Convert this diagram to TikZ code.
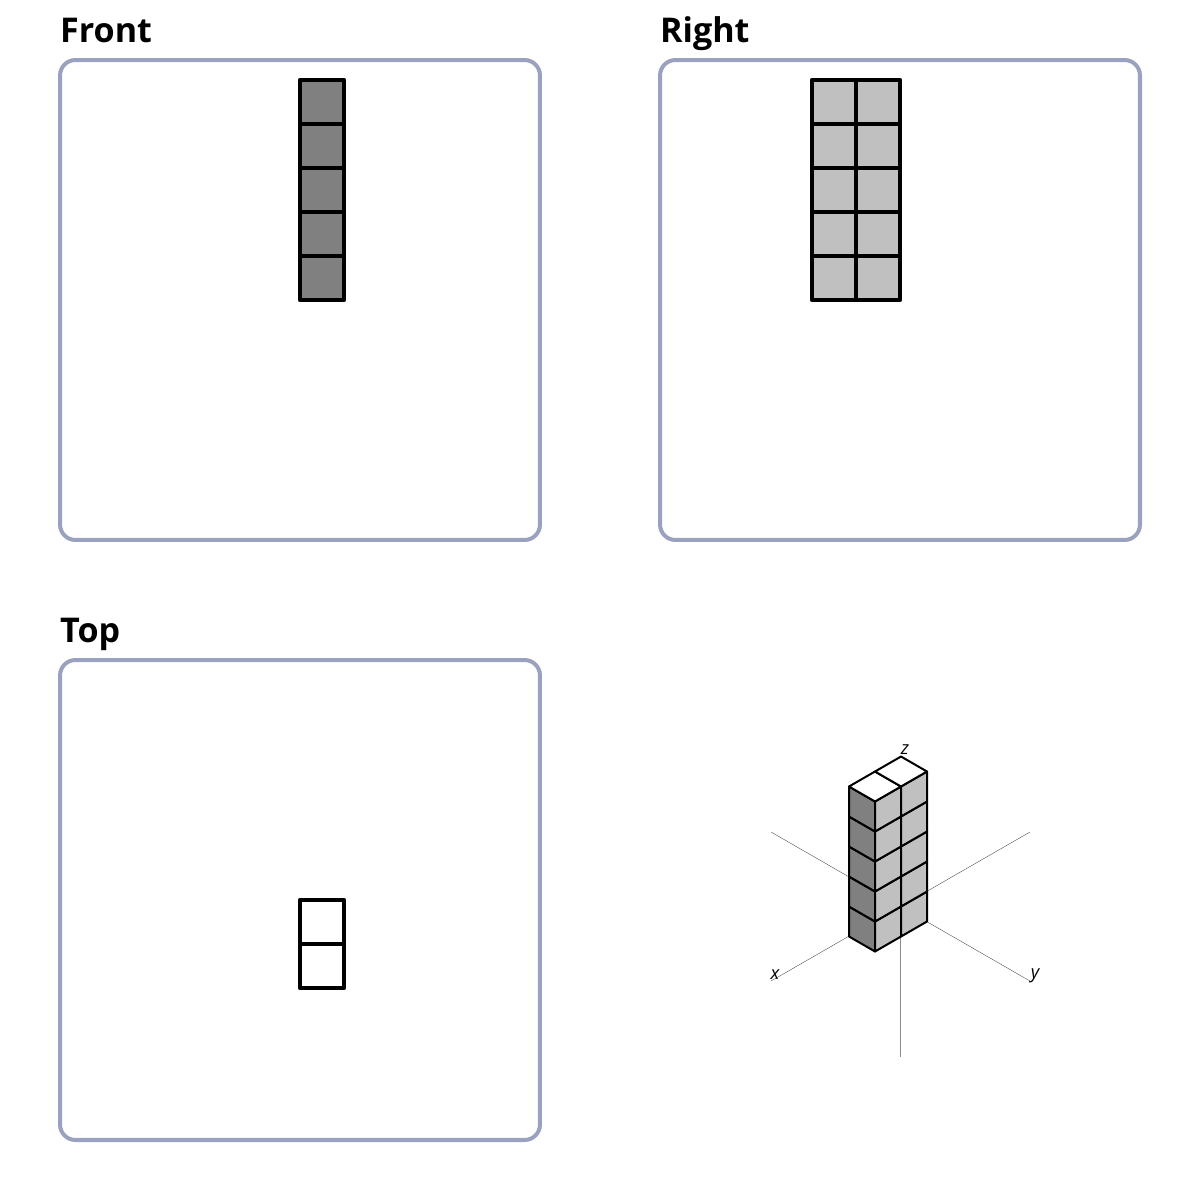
\documentclass[tikz,border=0pt]{standalone}
\usepackage{fontspec}
\setmainfont{Open Sans}
\definecolor{panelblue}{HTML}{9BA2BF}
\definecolor{darkface}{HTML}{808080}
\definecolor{lightface}{HTML}{C0C0C0}
\tikzset{
	panel/.style={draw=panelblue,line width=5.7pt,rounded corners=22pt,minimum size=24cm,inner sep=0pt,outer sep=0pt},
	paneltitle/.style={anchor=base west,inner sep=0pt,font=\bfseries\fontsize{48.5}{48.5}\selectfont},
	cell/.style={draw=black,line width=6.4pt,line join=round},
	isocell/.style={draw=black,line width=2.85pt,line join=round},
	axisline/.style={draw=black!80,line width=0.45pt},
	axislabel/.style={inner sep=0pt,font=\itshape\fontsize{26}{26}\selectfont}
}
\begin{document}
\begin{tikzpicture}[x=0.05cm,y=-0.05cm]
		\useasboundingbox (0,0) rectangle (1200,1200);
		
		\node[panel] (front) at (300,300) {};
		\node[panel] (right) at (900,300) {};
		\node[panel] (top) at (300,900) {};
		
		\node[paneltitle] (fronttitle) at (60,42) {Front};
		\node[paneltitle] (righttitle) at (660,42) {Right};
		\node[paneltitle] (toptitle) at (60,642) {Top};
		
		\foreach \k in {0,...,4} {
			\draw[cell,fill=darkface] (300,80+44*\k) rectangle (344,124+44*\k);
			\draw[cell,fill=lightface] (812,80+44*\k) rectangle (856,124+44*\k);
			\draw[cell,fill=lightface] (856,80+44*\k) rectangle (900,124+44*\k);
		}
		\draw[cell,fill=white] (300,900) rectangle (344,944);
		\draw[cell,fill=white] (300,944) rectangle (344,988);
		
		\coordinate (origin) at (900.5,906.5);
		\coordinate (xfar) at (771,981);
		\coordinate (xnear) at (1030,832);
		\coordinate (yfar) at (1030,981);
		\coordinate (ynear) at (771,832);
		\coordinate (zfar) at (900.5,1057);
		\draw[axisline] (xfar) -- (origin) -- (xnear);
		\draw[axisline] (yfar) -- (origin) -- (ynear);
		\draw[axisline,draw=black!45] (origin) -- (zfar);
		
		\begin{scope}[shift={(875,951.5)},x={(1.3cm,0.75cm)},y={(-1.3cm,0.75cm)},z={(0,1.5cm)}]
			\foreach \k in {0,...,4} {
				\draw[isocell,fill=darkface] (0,0,\k) -- (0,1,\k) -- (0,1,\k+1) -- (0,0,\k+1) -- cycle;
				\draw[isocell,fill=lightface] (0,0,\k) -- (1,0,\k) -- (1,0,\k+1) -- (0,0,\k+1) -- cycle;
				\draw[isocell,fill=lightface] (1,0,\k) -- (2,0,\k) -- (2,0,\k+1) -- (1,0,\k+1) -- cycle;
			}
			\draw[isocell,fill=white] (0,0,5) -- (1,0,5) -- (1,1,5) -- (0,1,5) -- cycle;
			\draw[isocell,fill=white] (1,0,5) -- (2,0,5) -- (2,1,5) -- (1,1,5) -- cycle;
		\end{scope}
		
		\node[axislabel] (xlabel) at (775,975) {x};
		\node[axislabel] (ylabel) at (1035,976) {y};
		\node[axislabel] (zlabel) at (905,750) {z};
		\end{tikzpicture}
\end{document}
